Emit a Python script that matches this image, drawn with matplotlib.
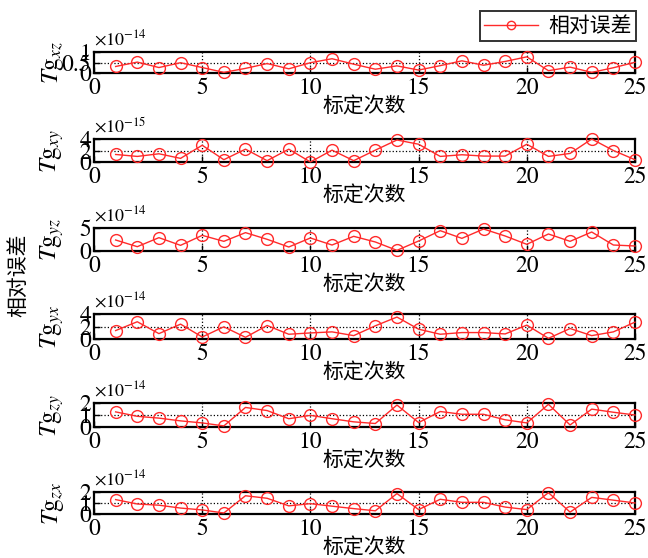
import matplotlib
matplotlib.use("Agg")
import matplotlib.pyplot as plt
from matplotlib.lines import Line2D

plt.rcParams['font.family'] = ['STIXGeneral', 'Liberation Serif', 'Noto Sans CJK SC']
plt.rcParams['mathtext.fontset'] = 'stix'

runs = list(range(1, 26))

# relative error per parameter, in units of the panel's power of ten
tg_xz = [0.31, 0.52, 0.26, 0.49, 0.26, 0.03, 0.22, 0.45, 0.20, 0.49, 0.68, 0.42, 0.18,
         0.34, 0.14, 0.35, 0.58, 0.37, 0.55, 0.77, 0.11, 0.28, 0.03, 0.25, 0.51]
tg_xy = [1.31, 0.97, 1.43, 0.63, 2.91, 0.40, 2.23, 0.23, 2.23, 0.00, 2.06, 0.23, 2.06,
         3.83, 3.09, 0.97, 1.26, 1.03, 1.03, 3.09, 0.97, 1.49, 4.00, 2.00, 0.40]
tg_yz = [2.39, 0.94, 2.90, 1.23, 3.40, 2.10, 3.99, 2.54, 0.87, 2.83, 1.30, 3.19, 1.96,
         0.14, 2.17, 4.42, 2.75, 4.78, 3.26, 1.45, 3.70, 2.10, 4.13, 1.30, 1.09]
tg_yx = [1.35, 2.76, 0.86, 2.38, 0.32, 1.95, 0.27, 2.16, 0.76, 0.97, 1.14, 0.54, 2.11,
         3.51, 1.57, 0.76, 1.03, 1.03, 0.81, 2.22, 0.11, 1.68, 0.54, 1.14, 2.70]
tg_zy = [1.26, 0.89, 0.74, 0.51, 0.34, 0.09, 1.63, 1.37, 0.69, 0.97, 0.69, 0.43, 0.29,
         1.83, 0.37, 1.29, 1.06, 1.06, 0.60, 0.34, 1.89, 0.17, 1.49, 1.23, 1.00]
tg_zx = [1.31, 0.91, 0.80, 0.54, 0.37, 0.09, 1.66, 1.43, 0.74, 0.94, 0.71, 0.49, 0.29,
         1.86, 0.40, 1.34, 1.06, 1.06, 0.63, 0.40, 1.94, 0.17, 1.51, 1.26, 1.00]

series = [tg_xz, tg_xy, tg_yz, tg_yx, tg_zy, tg_zx]
subscripts = ['xz', 'xy', 'yz', 'yx', 'zy', 'zx']
exponents = [-14, -15, -14, -14, -14, -14]
y_ticks = [[0, 0.5, 1], [0, 2, 4], [0, 5], [0, 2, 4], [0, 1, 2], [0, 1, 2]]
y_tick_labels = [['0', '0.5', '1'], ['0', '2', '4'], ['0', '5'], ['0', '2', '4'],
                 ['0', '1', '2'], ['0', '1', '2']]
x_ticks = [0, 5, 10, 15, 20, 25]

W, H = 648, 558
fig = plt.figure(figsize=(W / 100, H / 100), dpi=100)

# panel (top, bottom) in pixels
panel_px = [(52, 73), (139, 162), (228, 251), (314, 339), (403, 427), (492, 514)]
left_px, right_px = 94, 635

red = '#ff2a2a'
for i, (top, bot) in enumerate(panel_px):
    ax = fig.add_axes([left_px / W, 1 - bot / H, (right_px - left_px) / W, (bot - top) / H])
    ax.plot(runs, series[i], color=red, lw=1.0, marker='o', markersize=8.5,
            markerfacecolor='none', markeredgecolor=red, markeredgewidth=1.0,
            clip_on=False, zorder=3)
    ax.set_xlim(0, 25)
    ax.set_ylim(y_ticks[i][0], y_ticks[i][-1])
    ax.set_xticks(x_ticks)
    ax.set_yticks(y_ticks[i])
    ax.set_yticklabels(y_tick_labels[i])
    ax.tick_params(direction='in', length=4, width=1.0, labelsize=17, pad=2,
                   top=False, right=False)
    ax.tick_params(axis='x', pad=3)
    for sp in ax.spines.values():
        sp.set_linewidth(1.6)
    for xv in x_ticks[1:-1]:
        ax.axvline(xv, color='black', ls=':', lw=0.9, zorder=1)
    for yv in y_ticks[i][1:-1]:
        ax.axhline(yv, color='black', ls=':', lw=0.9, zorder=1)
    ax.set_xlabel('标定次数', fontsize=15, family=['Noto Sans CJK SC'], labelpad=-2)
    ax.set_ylabel(r'$T\mathrm{g}_{%s}$' % subscripts[i], fontsize=18)
    ax.yaxis.set_label_coords(-0.052, 0.5)
    ax.annotate(r'$\times$10$^{%d}$' % exponents[i], xy=(0, 1), xycoords='axes fraction',
                xytext=(0, 5), textcoords='offset points', fontsize=13,
                ha='left', va='baseline')

fig.text(18 / W, 1 - 275 / H, '相对误差', rotation=90, fontsize=15,
         family=['Noto Sans CJK SC'], ha='center', va='center')

handle = Line2D([], [], color=red, lw=1.0, marker='o', markersize=6,
                markerfacecolor='none', markeredgecolor=red)
leg = fig.legend([handle], ['相对误差'], loc='upper right',
                 bbox_to_anchor=(636 / W, 1 - 11 / H), frameon=True, fancybox=False,
                 edgecolor='black', prop={'family': 'Noto Sans CJK SC', 'size': 15},
                 borderpad=0.2, handlelength=2.6, handletextpad=0.5, borderaxespad=0)
leg.get_frame().set_linewidth(1.4)

fig.savefig('out.png', dpi=100)
